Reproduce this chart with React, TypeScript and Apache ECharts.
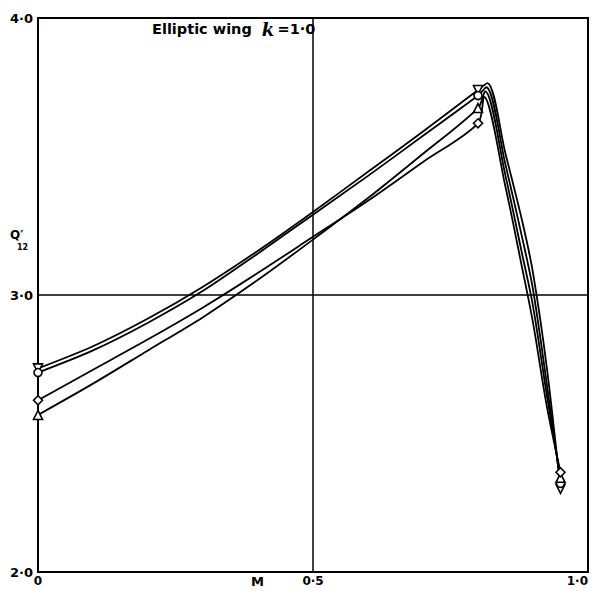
import React, { useEffect, useRef } from "react";
import * as echarts from "echarts";

const machRise = [0, 0.1, 0.2, 0.3, 0.4, 0.5, 0.6, 0.7, 0.8];
const machFall = [0.85, 0.88, 0.9, 0.925, 0.95];
const markerIdx = [0, 8, 14];

const invTriValues = [2.735, 2.815, 2.915, 3.03, 3.16, 3.3, 3.445, 3.59, 3.74, 3.765, 3.51, 3.27, 3.08, 2.74, 2.3];
const circleValues = [2.72, 2.8, 2.9, 3.015, 3.15, 3.29, 3.43, 3.575, 3.72, 3.75, 3.47, 3.21, 3.02, 2.68, 2.32];
const triangleValues = [2.567, 2.68, 2.8, 2.92, 3.055, 3.2, 3.35, 3.51, 3.675, 3.735, 3.43, 3.15, 2.96, 2.64, 2.34];
const diamondValues = [2.62, 2.73, 2.84, 2.955, 3.08, 3.21, 3.34, 3.48, 3.62, 3.715, 3.39, 3.1, 2.9, 2.6, 2.36];
const peakMach = [0.817, 0.815, 0.813, 0.811];

const xTicks = [0, 0.5, 1.0];
const xTickLabels = ["0", "0·5", "1·0"];
const yTickLabels: Record<number, string> = { 2: "2·0", 3: "3·0", 4: "4·0" };

const INV_TRI = "path://M0,0 L10,0 L5,10 Z";

function buildSeries(name: string, values: number[], peak: number, symbol: string, size: number) {
  const xs = [...machRise, peak, ...machFall];
  return {
    name,
    type: "line",
    smooth: 0.3,
    clip: false,
    symbol,
    symbolSize: size,
    showSymbol: true,
    lineStyle: { color: "#000", width: 1.8 },
    itemStyle: { color: "#fff", borderColor: "#000", borderWidth: 1.6 },
    z: 3,
    data: values.map((v, i) =>
      markerIdx.includes(i)
        ? { value: [xs[i], v] }
        : { value: [xs[i], v], symbol: "none" }
    ),
  };
}

export default function App() {
  const ref = useRef<HTMLDivElement>(null);
  useEffect(() => {
    if (!ref.current) return;
    const chart = echarts.init(ref.current, null, { renderer: "svg" });
    const labelFont = {
      color: "#000",
      fontFamily: "DejaVu Sans",
      fontWeight: "bold" as const,
      fontSize: 12,
    };
    chart.setOption({
      animation: false,
      backgroundColor: "#fff",
      grid: {
        left: 38,
        right: 10,
        top: 18,
        bottom: 19,
        show: true,
        borderColor: "#000",
        borderWidth: 2,
        backgroundColor: "transparent",
      },
      xAxis: {
        type: "value",
        min: 0,
        max: 1,
        interval: 0.5,
        axisLine: { show: true, lineStyle: { color: "#000", width: 2 } },
        axisTick: { show: false },
        splitLine: { show: true, lineStyle: { color: "#000", width: 1.5 } },
        axisLabel: {
          ...labelFont,
          margin: 3,
          alignMaxLabel: "right",
          formatter: (v: number) => {
            const i = xTicks.findIndex((t) => Math.abs(t - v) < 1e-6);
            return i >= 0 ? xTickLabels[i] : "";
          },
        },
      },
      yAxis: {
        type: "value",
        min: 2,
        max: 4,
        interval: 1,
        axisLine: { show: true, lineStyle: { color: "#000", width: 2 } },
        axisTick: { show: false },
        splitLine: { show: true, lineStyle: { color: "#000", width: 1.5 } },
        axisLabel: {
          ...labelFont,
          fontSize: 13,
          margin: 5,
          formatter: (v: number) => yTickLabels[Math.round(v)] ?? "",
        },
      },
      graphic: [
        {
          type: "text",
          left: 152,
          top: 20,
          style: {
            text: "{a|Elliptic wing}   {k|k} {a|=1·0}",
            rich: {
              a: { fontFamily: "DejaVu Sans", fontWeight: "bold", fontSize: 14.5, fill: "#000" },
              k: { fontFamily: "DejaVu Serif", fontStyle: "italic", fontWeight: "bold", fontSize: 18, fill: "#000" },
            },
          },
        },
        {
          type: "text",
          left: 251,
          top: 575,
          style: { text: "M", fontFamily: "DejaVu Sans", fontWeight: "bold", fontSize: 13, fill: "#000" },
        },
        {
          type: "text",
          left: 10,
          top: 229,
          style: { text: "Q′", fontFamily: "DejaVu Sans", fontWeight: "bold", fontSize: 12, fill: "#000" },
        },
        {
          type: "text",
          left: 17,
          top: 243,
          style: { text: "12", fontFamily: "DejaVu Sans", fontWeight: "bold", fontSize: 8, fill: "#000" },
        },
      ],
      series: [
        buildSeries("▽", invTriValues, peakMach[0], INV_TRI, 9),
        buildSeries("○", circleValues, peakMach[1], "circle", 8),
        buildSeries("△", triangleValues, peakMach[2], "triangle", 9),
        buildSeries("◇", diamondValues, peakMach[3], "diamond", 9),
      ],
    });
    return () => chart.dispose();
  }, []);
  return (
    <div
      ref={ref}
      style={{ position: "fixed", left: 0, top: 0, width: 598, height: 591 }}
    />
  );
}
